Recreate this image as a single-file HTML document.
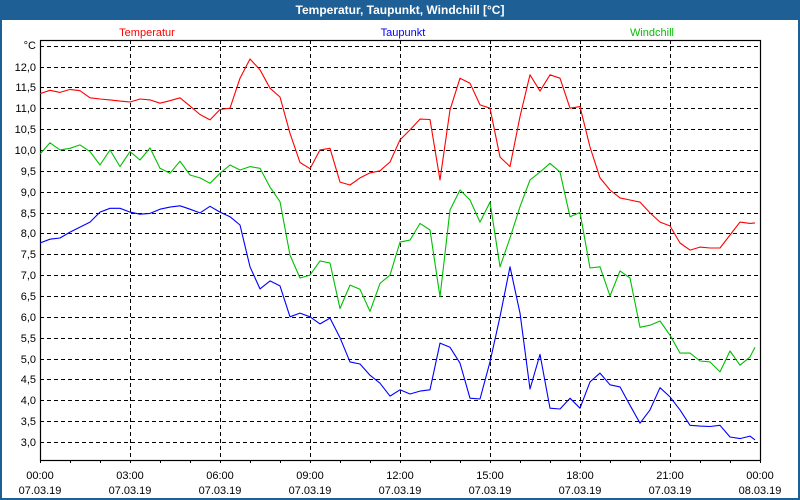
<!DOCTYPE html>
<html><head><meta charset="utf-8">
<style>
html,body{margin:0;padding:0;}
body{width:800px;height:500px;overflow:hidden;background:#fff;font-family:"Liberation Sans",sans-serif;}
#win{position:absolute;left:0;top:0;width:796px;height:498px;border:2px solid #1e5f96;border-top:none;background:#fff;}
#titlebar{position:absolute;left:0;top:0;width:800px;height:20px;background:#1e5f96;color:#fff;font-weight:bold;font-size:12px;line-height:21px;text-align:center;}
svg{position:absolute;left:0;top:0;}
</style></head><body>
<div id="win"></div>
<div id="titlebar">Temperatur, Taupunkt, Windchill [°C]</div>
<svg id="chart" width="800" height="500"></svg>
<script>
const yTicks=[3.0,3.5,4.0,4.5,5.0,5.5,6.0,6.5,7.0,7.5,8.0,8.5,9.0,9.5,10.0,10.5,11.0,11.5,12.0];
const xTickLabels=["00:00","03:00","06:00","09:00","12:00","15:00","18:00","21:00","00:00"];
const xDateLabels=["07.03.19","07.03.19","07.03.19","07.03.19","07.03.19","07.03.19","07.03.19","07.03.19","08.03.19"];
const seriesNames=["Temperatur","Taupunkt","Windchill"];
const temperatur=[11.35,11.43,11.38,11.45,11.42,11.25,11.22,11.2,11.17,11.15,11.22,11.2,11.12,11.18,11.25,11.05,10.85,10.72,10.97,11.0,11.72,12.18,11.92,11.48,11.27,10.4,9.7,9.55,10.0,10.04,9.23,9.16,9.33,9.45,9.5,9.71,10.24,10.48,10.74,10.73,9.28,10.96,11.72,11.6,11.08,11.0,9.83,9.6,10.8,11.8,11.41,11.8,11.72,11.0,11.04,10.07,9.33,9.04,8.85,8.8,8.75,8.49,8.27,8.18,7.77,7.6,7.67,7.65,7.65,7.96,8.27,8.24,8.25];
const taupunkt=[7.77,7.86,7.89,8.03,8.15,8.27,8.51,8.6,8.6,8.51,8.46,8.48,8.58,8.63,8.66,8.58,8.49,8.65,8.51,8.4,8.2,7.2,6.67,6.86,6.74,6.0,6.09,6.0,5.83,5.97,5.5,4.92,4.87,4.6,4.41,4.1,4.25,4.15,4.22,4.25,5.37,5.27,4.89,4.05,4.03,4.92,6.0,7.2,6.09,4.27,5.1,3.81,3.79,4.05,3.81,4.44,4.65,4.37,4.32,3.88,3.45,3.77,4.3,4.08,3.77,3.4,3.38,3.37,3.4,3.12,3.08,3.14,3.05];
const windchill=[9.9,10.17,10.0,10.04,10.12,9.96,9.64,10.0,9.6,9.96,9.76,10.05,9.56,9.44,9.73,9.4,9.33,9.2,9.44,9.64,9.52,9.6,9.56,9.11,8.76,7.48,6.93,7.0,7.34,7.29,6.2,6.76,6.66,6.13,6.8,7.0,7.79,7.84,8.24,8.08,6.48,8.56,9.04,8.8,8.27,8.75,7.2,7.89,8.64,9.28,9.47,9.68,9.47,8.4,8.5,7.17,7.2,6.5,7.1,6.93,5.75,5.8,5.9,5.56,5.13,5.13,4.94,4.92,4.68,5.18,4.84,5.04,5.27];
// sample times in hours: every 20 minutes, last sample at 23:50
const times=[];
for(let i=0;i<72;i++) times.push(i/3);
times.push(23+50/60);

const NS="http://www.w3.org/2000/svg";
const svg=document.getElementById('chart');
const L=40,R=760,T=40,B=460;
const yMin=12.0-(B-66.5)/41.72, yMax=12.0+(66.5-T)/41.72;
function xs(h){return L+(R-L)*h/24;}
function ys(v){return 66.5+(12.0-v)*41.72;}
function mk(tag,attrs){const e=document.createElementNS(NS,tag);for(const k in attrs)e.setAttribute(k,attrs[k]);svg.appendChild(e);return e;}

// horizontal gridlines
[...yTicks,12.5].forEach(v=>{
  const y=Math.round(ys(v))+0.5;
  const g=mk('line',{x1:L,x2:R,y1:y,y2:y,stroke:'#000','stroke-dasharray':'4,3','stroke-width':1});
  
  
});
yTicks.forEach(v=>{
  const t=mk('text',{x:36,y:Math.round(ys(v))+4,'text-anchor':'end','font-size':11,fill:'#000'});
  t.textContent=v.toFixed(1).replace('.',',');
  
  
});
const unit=mk('text',{x:36,y:49,'text-anchor':'end','font-size':11,fill:'#000'});
unit.textContent='°C';



// vertical gridlines
for(let h=3;h<24;h+=3){
  const x=Math.round(xs(h))+0.5;
  const g=mk('line',{x1:x,x2:x,y1:T,y2:B,stroke:'#000','stroke-dasharray':'4,3','stroke-width':1});
  
  
}
// hour ticks
for(let h=0;h<=24;h++){
  const x=Math.round(xs(h))+0.5;
  const t=mk('line',{x1:x,x2:x,y1:B,y2:B+3,stroke:'#000','stroke-width':1});
  
  
}
xTickLabels.forEach((s,i)=>{
  const x=xs(i*3);
  const t=mk('text',{x:x,y:479,'text-anchor':'middle','font-size':11,fill:'#000'});
  t.textContent=s;
  
  
  const d=mk('text',{x:x,y:494,'text-anchor':'middle','font-size':11,fill:'#000'});
  d.textContent=xDateLabels[i];
  
  
});

// plot frame
const fr=mk('rect',{x:L+0.5,y:T+0.5,width:R-L,height:B-T,fill:'none',stroke:'#000','stroke-width':1.2});



// series
const series=[[temperatur,'#ff0000','temperatur-line'],[taupunkt,'#0000ff','taupunkt-line'],[windchill,'#00c000','windchill-line']];
series.forEach(([vals,col,name])=>{
  const pts=vals.map((v,i)=>xs(times[i]).toFixed(1)+','+ys(v).toFixed(1)).join(' ');
  const p=mk('polyline',{points:pts,fill:'none',stroke:col,'stroke-width':1.1,'stroke-linejoin':'round'});
  
  
});

// legend
const legX=[147,403,652], legCol=['#ff0000','#0000ff','#00c000'];
seriesNames.forEach((n,i)=>{
  const t=mk('text',{x:legX[i],y:36,'text-anchor':'middle','font-size':11,fill:legCol[i]});
  t.textContent=n;
  
  
});
</script>
</body></html>
